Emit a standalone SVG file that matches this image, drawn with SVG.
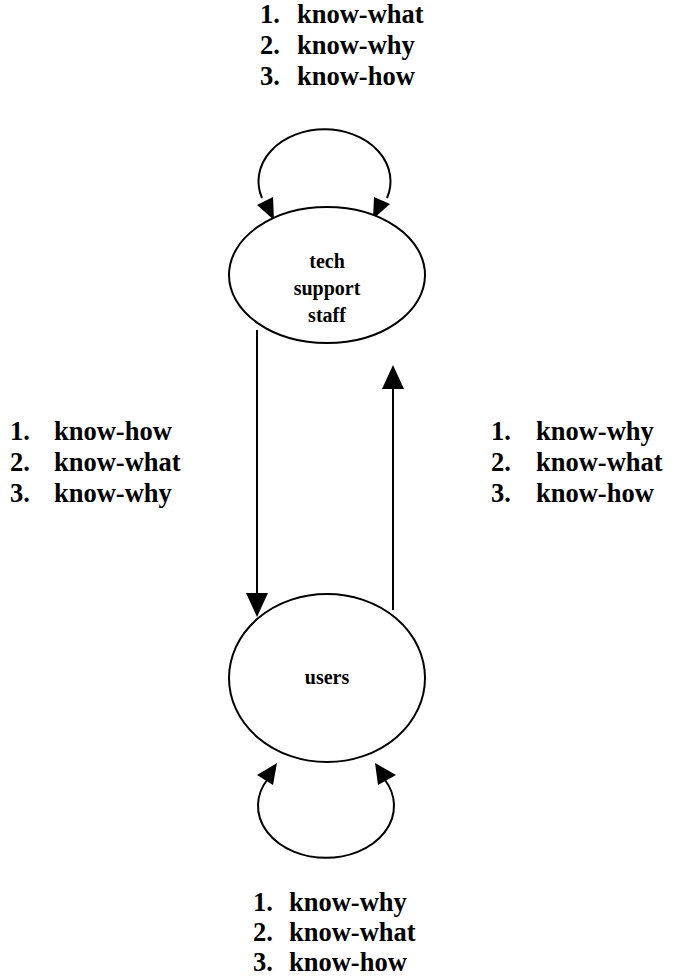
<svg xmlns="http://www.w3.org/2000/svg" width="673" height="978" viewBox="0 0 673 978">
<style>
.lbl{font-family:"Liberation Serif","Times New Roman",serif;font-weight:bold;font-size:26.5px;fill:#000}
.nd{font-family:"Liberation Serif","Times New Roman",serif;font-weight:bold;font-size:20px;fill:#000;text-anchor:middle}
.shape{fill:#fff;stroke:#000;stroke-width:2}
.edge{fill:none;stroke:#000;stroke-width:2}
.head{fill:#000;stroke:none}
</style>
<rect width="673" height="978" fill="#fff"/>
<g id="connectors">
  <path class="edge" d="M 262,198 A 66 52 0 1 1 387,198"/>
  <polygon class="head" points="257,205 273,197 274,220"/>
  <polygon class="head" points="374,197 390,204 373,219"/>
  <line class="edge" x1="257" y1="330" x2="257" y2="596"/>
  <polygon class="head" points="246,593 268,593 257,617"/>
  <line class="edge" x1="393" y1="610" x2="393" y2="386"/>
  <polygon class="head" points="382,389 404,389 393,365"/>
  <path class="edge" d="M 267,780 A 68 52 0 1 0 385,780"/>
  <polygon class="head" points="257,775 277,763 273,785"/>
  <polygon class="head" points="375,763 396,775 378,785"/>
</g>
<g id="node-tech">
  <ellipse class="shape" cx="327" cy="275" rx="98" ry="68"/>
  <text class="nd" x="327" y="268">tech</text>
  <text class="nd" x="327" y="295">support</text>
  <text class="nd" x="327" y="322">staff</text>
</g>
<g id="node-users">
  <ellipse class="shape" cx="327" cy="678" rx="98" ry="84"/>
  <text class="nd" x="327" y="684">users</text>
</g>
<g id="label-top">
  <text class="lbl" x="260" y="23">1.</text><text class="lbl" x="297" y="23">know-what</text>
  <text class="lbl" x="260" y="54">2.</text><text class="lbl" x="297" y="54">know-why</text>
  <text class="lbl" x="260" y="85">3.</text><text class="lbl" x="297" y="85">know-how</text>
</g>
<g id="label-left">
  <text class="lbl" x="10" y="440">1.</text><text class="lbl" x="54" y="440">know-how</text>
  <text class="lbl" x="10" y="471">2.</text><text class="lbl" x="54" y="471">know-what</text>
  <text class="lbl" x="10" y="502">3.</text><text class="lbl" x="54" y="502">know-why</text>
</g>
<g id="label-right">
  <text class="lbl" x="491" y="440">1.</text><text class="lbl" x="536" y="440">know-why</text>
  <text class="lbl" x="491" y="471">2.</text><text class="lbl" x="536" y="471">know-what</text>
  <text class="lbl" x="491" y="502">3.</text><text class="lbl" x="536" y="502">know-how</text>
</g>
<g id="label-bottom">
  <text class="lbl" x="253" y="911">1.</text><text class="lbl" x="289" y="911">know-why</text>
  <text class="lbl" x="253" y="941">2.</text><text class="lbl" x="289" y="941">know-what</text>
  <text class="lbl" x="253" y="971">3.</text><text class="lbl" x="289" y="971">know-how</text>
</g>
</svg>
